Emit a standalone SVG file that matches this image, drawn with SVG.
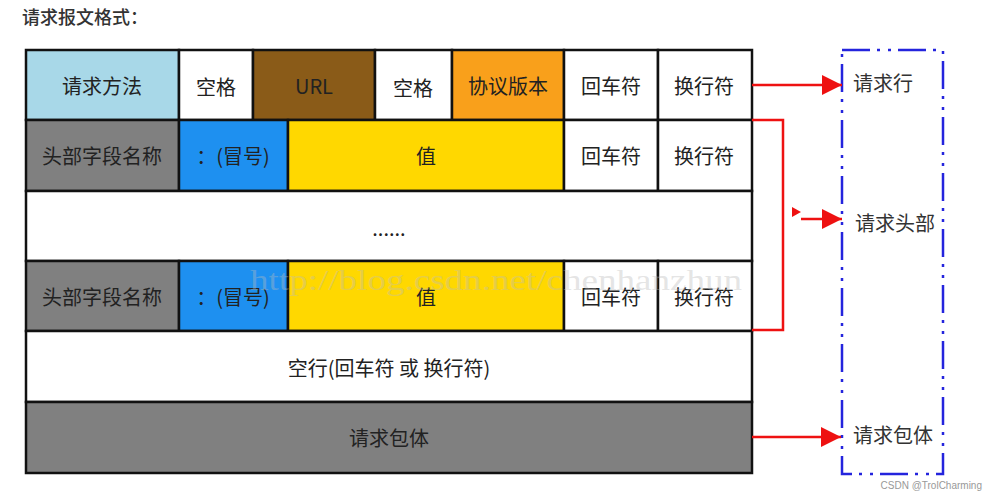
<svg xmlns="http://www.w3.org/2000/svg" width="991" height="500" viewBox="0 0 991 500">
<style>
.t{font-family:"Noto Sans CJK SC","Noto Sans",sans-serif;font-size:20px;fill:#222;text-anchor:middle;dominant-baseline:central}
.l{font-family:"Noto Sans CJK SC","Noto Sans",sans-serif;font-size:20px;fill:#333;dominant-baseline:central}
.c{stroke:#111;stroke-width:2.5}
.w{fill:#fff}.lb{fill:#a8d8e8}.br{fill:#8a5b18}.or{fill:#f9a01b}.gr{fill:#808080}.bl{fill:#1e90f0}.ye{fill:#ffd800}
.red{stroke:#ee1111;stroke-width:2.5;fill:none}
</style>
<defs>
<marker id="ah" markerUnits="userSpaceOnUse" markerWidth="20" markerHeight="20" refX="20" refY="10" orient="auto">
<path d="M0,0 L20,10 L0,20 z" fill="#ee1111"/>
</marker>
</defs>
<rect width="991" height="500" fill="#fff"/>
<text x="22" y="16" font-family="Noto Sans CJK SC, sans-serif" font-size="18" font-weight="500" fill="#333" dominant-baseline="central">请求报文格式：</text>

<g id="row1">
<rect class="c lb" x="26" y="50" width="153" height="70"/><text class="t" x="102" y="85">请求方法</text>
<rect class="c w" x="179" y="50" width="74" height="70"/><text class="t" x="216" y="86">空格</text>
<rect class="c br" x="253" y="50" width="122" height="70"/><text class="t" x="314" y="85">URL</text>
<rect class="c w" x="375" y="50" width="77" height="70"/><text class="t" x="413" y="87">空格</text>
<rect class="c or" x="452" y="50" width="112" height="70"/><text class="t" x="508" y="85">协议版本</text>
<rect class="c w" x="564" y="50" width="94" height="70"/><text class="t" x="611" y="85">回车符</text>
<rect class="c w" x="658" y="50" width="94" height="70"/><text class="t" x="704" y="85">换行符</text>
</g>
<g id="row2">
<rect class="c gr" x="26" y="120" width="153" height="71"/><text class="t" x="102" y="155">头部字段名称</text>
<rect class="c bl" x="179" y="120" width="109" height="71"/><text class="t" x="233" y="155">：(冒号)</text>
<rect class="c ye" x="288" y="120" width="276" height="71"/><text class="t" x="426" y="155">值</text>
<rect class="c w" x="564" y="120" width="94" height="71"/><text class="t" x="611" y="155">回车符</text>
<rect class="c w" x="658" y="120" width="94" height="71"/><text class="t" x="704" y="155">换行符</text>
</g>
<g id="row3">
<rect class="c w" x="26" y="191" width="726" height="70"/><text class="t" x="389" y="227">......</text>
</g>
<g id="row4">
<rect class="c gr" x="26" y="261" width="153" height="70"/><text class="t" x="102" y="296">头部字段名称</text>
<rect class="c bl" x="179" y="261" width="109" height="70"/><text class="t" x="233" y="296">：(冒号)</text>
<rect class="c ye" x="288" y="261" width="276" height="70"/><text class="t" x="426" y="296">值</text>
<rect class="c w" x="564" y="261" width="94" height="70"/><text class="t" x="611" y="296">回车符</text>
<rect class="c w" x="658" y="261" width="94" height="70"/><text class="t" x="704" y="296">换行符</text>
</g>
<g id="row5">
<rect class="c w" x="26" y="331" width="726" height="71"/><text class="t" x="389" y="367">空行(回车符 或 换行符)</text>
</g>
<g id="row6">
<rect class="c gr" x="26" y="402" width="726" height="71"/><text class="t" x="389" y="437">请求包体</text>
</g>

<text x="250" y="290" font-family="Liberation Serif, serif" font-size="30" fill="#bbbbbb" fill-opacity="0.4" textLength="492" lengthAdjust="spacingAndGlyphs">http://blog.csdn.net/chenhanzhun</text>

<g id="group-box">
<rect x="842" y="50" width="101" height="424" fill="none" stroke="#2424dd" stroke-width="2.5" stroke-dasharray="28 7 3 8 3 7"/>
<text class="l" x="853" y="82">请求行</text>
<text class="l" x="855" y="222">请求头部</text>
<text class="l" x="853" y="434">请求包体</text>
</g>

<g id="connectors">
<line class="red" x1="752" y1="85" x2="842" y2="85" marker-end="url(#ah)"/>
<polyline class="red" points="752,120 783,120 783,330 752,330"/>
<path d="M792,207 L801,212 L792,217 z" fill="#ee1111"/>
<line class="red" x1="801" y1="219" x2="842" y2="219" marker-end="url(#ah)"/>
<line class="red" x1="752" y1="437" x2="841" y2="437" marker-end="url(#ah)"/>
</g>

<text x="982" y="489" font-family="Liberation Sans, sans-serif" font-size="10" fill="#999" text-anchor="end">CSDN @TrolCharming</text>
</svg>
